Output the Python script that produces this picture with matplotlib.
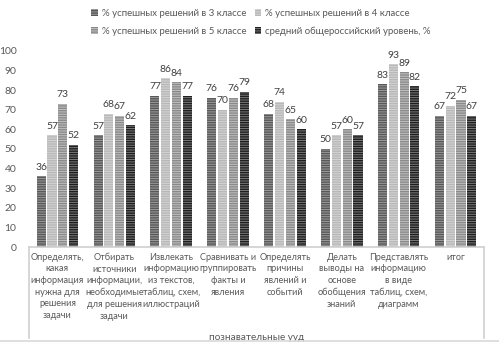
import numpy as np
import matplotlib
matplotlib.use("Agg")
import matplotlib.pyplot as plt
from matplotlib.lines import Line2D

plt.rcParams['font.family'] = ['Lato', 'DejaVu Sans']
plt.rcParams['hatch.linewidth'] = 1.0

categories = [
    "Определять,\nкакая\nинформация\nнужна для\nрешения\nзадачи",
    "Отбирать\nисточники\nинформации,\nнеобходимые\nдля решения\nзадачи",
    "Извлекать\nинформацию\nиз текстов,\nтаблиц, схем,\nиллюстраций",
    "Сравнивать и\nгруппировать\nфакты и\nявления",
    "Определять\nпричины\nявлений и\nсобытий",
    "Делать\nвыводы на\nоснове\nобобщения\nзнаний",
    "Представлять\nинформацию\nв виде\nтаблиц, схем,\nдиаграмм",
    "итог",
]
series_names = [
    "% успешных решений в 3 классе",
    "% успешных решений в 4 классе",
    "% успешных решений в 5 классе",
    "средний общероссийский уровень, %",
]
grade3 = [36, 57, 77, 76, 68, 50, 83, 67]
grade4 = [57, 68, 86, 70, 74, 57, 93, 72]
grade5 = [73, 67, 84, 76, 65, 60, 89, 75]
average = [52, 62, 77, 79, 60, 57, 82, 67]
group_label = "познавательные ууд"

series = [grade3, grade4, grade5, average]
# (background, stripe colour)
fills = [("#9a9a9a", "#595959"), ("#d4d4d4", "#b8b8b8"),
         ("#c0c0c0", "#8a8a8a"), ("#7a7a7a", "#1e1e1e")]

fig = plt.figure(figsize=(4.99, 3.5), dpi=100)
ax = fig.add_axes([0.058, 0.294, 0.912, 0.561])

x = np.arange(len(categories))
w = 0.16
step = 0.19
handles = []
for i, (vals, (bg, fg)) in enumerate(zip(series, fills)):
    pos = x + (i - 1.5) * step
    bars = ax.bar(pos, vals, w, facecolor=bg, edgecolor=fg, hatch="-------",
                  linewidth=0, label=series_names[i])
    handles.append(bars)
    for p, v in zip(pos, vals):
        ax.text(p, v + 2.3, str(v), ha="center", va="bottom",
                fontsize=7.5, color="#404040")

ax.set_xlim(-0.5, len(categories) - 0.5)
ax.set_ylim(0, 100)
ax.set_yticks(range(0, 101, 10))
ax.set_xticks(x)
ax.set_xticklabels(categories, fontsize=6.6, color="#595959", linespacing=1.38)
ax.tick_params(axis="both", length=0, labelsize=7.5, colors="#595959")
ax.tick_params(axis="x", pad=4, labelsize=6.6)
ax.tick_params(axis="y", pad=9)
for s in ["top", "right", "left"]:
    ax.spines[s].set_visible(False)
ax.spines["bottom"].set_color("#d0d0d0")
ax.spines["bottom"].set_linewidth(1.2)

# multi-level axis dividers
ybot = -0.464
for xx in [0, 1]:
    ax.plot([xx, xx], [0, ybot], transform=ax.transAxes, color="#d0d0d0",
            lw=1.2, clip_on=False)
ax.text(0.5, -0.485, group_label, transform=ax.transAxes, ha="center",
        va="bottom", fontsize=7.2, color="#595959")

fig.add_artist(Line2D([0, 1], [1 - 341 / 350] * 2, color="#d9d9d9", lw=1.2))

order = [0, 2, 1, 3]
fig.legend([handles[k] for k in order], [series_names[k] for k in order],
           loc="upper left", bbox_to_anchor=(0.165, 1.0), ncol=2,
           frameon=False, fontsize=6.9, labelcolor="#595959",
           handlelength=0.7, handleheight=0.7, handletextpad=0.4,
           columnspacing=0.9, labelspacing=0.95)

fig.savefig("out.png", dpi=100)
